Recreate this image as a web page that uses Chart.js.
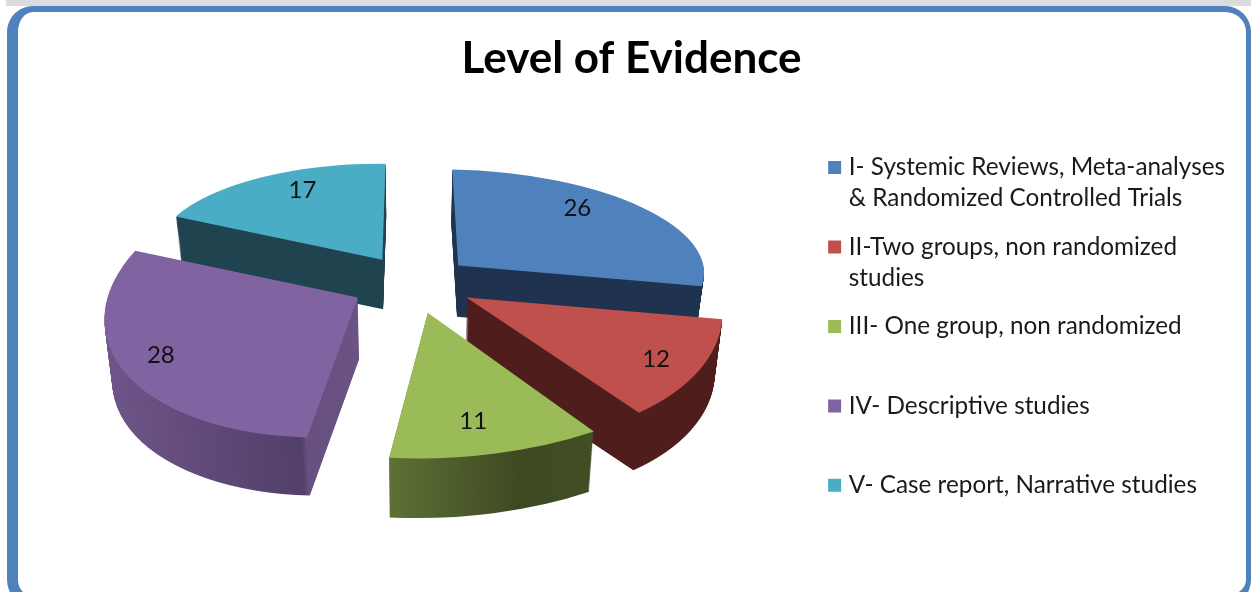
<!DOCTYPE html>
<html>
<head>
<meta charset="utf-8">
<title>Level of Evidence</title>
<script src="https://cdn.jsdelivr.net/npm/chart.js@4/dist/chart.umd.min.js"></script>
<style>
    html, body { margin: 0; padding: 0; background: #fff; overflow: hidden; }
    #page { position: relative; width: 1251px; height: 592px; overflow: hidden; }
    #strip { position: absolute; left: 6px; top: 0; right: 0; height: 6px; background: #dbdcde; }
    #card {
        position: absolute; left: 7px; top: 6px; width: 1228px; height: 584px;
        border-style: solid; border-color: #4f81bd;
        border-width: 6px 5px 10px 11px; border-radius: 26px; background: #fff;
    }
    #chart { position: absolute; left: 0; top: 0; }
</style>
</head>
<body>
<div id="page">
    <div id="strip"></div>
    <div id="card"></div>
    <canvas id="chart" width="1251" height="592"></canvas>
</div>
<script>
const titleText = 'Level of Evidence';
// 한 줄짜리 항목도 두 줄로 잡아서 범례 간격을 같게 맞춤
const categories = [
    ['I- Systemic Reviews, Meta-analyses', '& Randomized Controlled Trials'],
    ['II-Two groups, non randomized', 'studies'],
    ['III- One group, non randomized', ''],
    ['IV- Descriptive studies', ''],
    ['V- Case report, Narrative studies', '']
];
const values = [26, 12, 11, 28, 17];
const faceColors = ['#4f81bd', '#c0504d', '#9bbb59', '#8064a2', '#4bacc6'];
const sideStops = [
    [[0, '#1f334f'], [1, '#1f334f']],
    [[0, '#4f1e1c'], [1, '#4f1e1c']],
    [[0.43, '#5e7136'], [0.67, '#3e4922'], [0.81, '#424f25']],
    [[0, '#6f5589'], [0.42, '#523f6a'], [0.43, '#67507f'], [0.51, '#6b5385']],
    [[0, '#1f4450'], [1, '#1f4450']]
];

// 원근감 흉내: 조각마다 기울기 행렬 [a, b, c, d], 미세 이동, 옆면 두께가 다름
const pieCenter = { x: 412, y: 280 };
const faceMatrix = [
    [0.98, 0.024, 0.02, 0.382],
    [0.949, 0.121, -0.013, 0.535],
    [1.115, -0.008, -0.015, 0.538],
    [1.0, -0.066, -0.051, 0.552],
    [0.9, -0.016, 0.011, 0.375]
];
const faceNudge = [[0, 0], [0, 0], [0, 0], [3, -2], [0, 0]];
const sideDepth = [51, 61, 64, 62, 49];
const sideShrink = 0.025;
const labelAt = [[0.39, 0.8], [0.51, 0.88], [0.54, 0.83], [0.54, 0.84], [0.59, 0.82]];

function placeSlice(ctx, arc, i, drop, shrink) {
    const m = faceMatrix[i];
    ctx.translate(pieCenter.x + faceNudge[i][0], pieCenter.y + faceNudge[i][1] + drop);
    ctx.transform(m[0] * shrink, m[2] * shrink, m[1] * shrink, m[3] * shrink, 0, 0);
    ctx.translate(-arc.x, -arc.y);
}

function sideFill(ctx, arc, i) {
    const r = arc.outerRadius;
    const grad = ctx.createLinearGradient(arc.x - r, 0, arc.x + r, 0);
    sideStops[i].forEach(s => grad.addColorStop(s[0], s[1]));
    return grad;
}

const pie3d = {
    id: 'pie3d',
    beforeDatasetDraw(chart, args) {
        const ctx = chart.ctx;
        const arcs = args.meta.data;
        // 뒤쪽 조각부터 그리기
        const order = arcs.map((a, i) => i).sort((a, b) => {
            const mid = n => (arcs[n].startAngle + arcs[n].endAngle) / 2;
            return Math.sin(mid(a)) - Math.sin(mid(b));
        });
        order.forEach(i => {
            const arc = arcs[i];
            const faceOptions = arc.options;
            arc.options = Object.assign({}, faceOptions, { backgroundColor: sideFill(ctx, arc, i) });
            for (let d = sideDepth[i]; d > 0; d--) {
                ctx.save();
                placeSlice(ctx, arc, i, d, 1 - sideShrink * d / sideDepth[i]);
                arc.draw(ctx);
                ctx.restore();
            }
            arc.options = faceOptions;
            ctx.save();
            placeSlice(ctx, arc, i, 0, 1);
            arc.draw(ctx);
            ctx.restore();
        });
        return false;
    },
    afterDatasetsDraw(chart) {
        const ctx = chart.ctx;
        const arcs = chart.getDatasetMeta(0).data;
        ctx.save();
        ctx.font = '24px Lato';
        ctx.fillStyle = '#111';
        ctx.textAlign = 'center';
        ctx.textBaseline = 'middle';
        arcs.forEach((arc, i) => {
            const mid = (arc.startAngle + arc.endAngle) / 2;
            const push = arc.options.offset / 4;
            const a = arc.startAngle + labelAt[i][0] * (arc.endAngle - arc.startAngle);
            const r = labelAt[i][1] * arc.outerRadius;
            const lx = Math.cos(mid) * push + Math.cos(a) * r;
            const ly = Math.sin(mid) * push + Math.sin(a) * r;
            const m = faceMatrix[i];
            ctx.fillText(String(values[i]),
                pieCenter.x + faceNudge[i][0] + m[0] * lx + m[1] * ly,
                pieCenter.y + faceNudge[i][1] + m[2] * lx + m[3] * ly);
        });
        ctx.restore();
    }
};

new Chart(document.getElementById('chart').getContext('2d'), {
    type: 'pie',
    data: {
        labels: categories,
        datasets: [{
            data: values,
            backgroundColor: faceColors,
            borderWidth: 0,
            offset: 252,
            radius: 250
        }]
    },
    options: {
        responsive: false,
        animation: false,
        events: [],
        layout: { padding: { left: 28, right: 16 } },
        plugins: {
            title: {
                display: true,
                text: titleText,
                color: '#000',
                font: { family: 'Lato', size: 44, weight: 'bold' },
                padding: { top: 32, bottom: 52.5 }
            },
            legend: {
                position: 'right',
                align: 'start',
                fullSize: false,
                labels: {
                    font: { family: 'Lato', size: 24.3, lineHeight: 1.265 },
                    color: '#1a1a1a',
                    usePointStyle: true,
                    pointStyle: 'rect',
                    boxWidth: 4,
                    boxHeight: 13,
                    padding: 18
                }
            },
            tooltip: { enabled: false }
        }
    },
    plugins: [pie3d]
});
</script>
</body>
</html>
